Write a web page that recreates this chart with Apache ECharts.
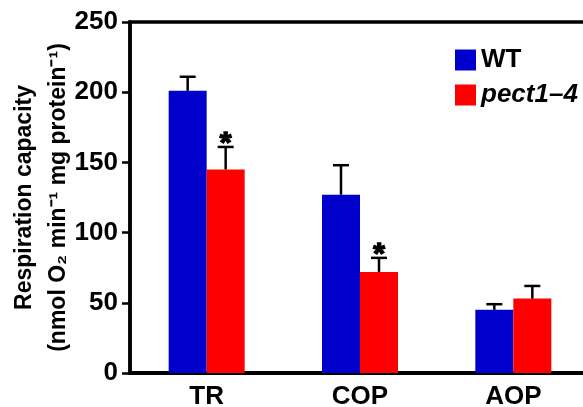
<!DOCTYPE html>
<html lang="en">
<head>
    <meta charset="utf-8">
    <title>Respiration capacity</title>
    <script src="https://cdn.jsdelivr.net/npm/echarts@6/dist/echarts.min.js"></script>
    <style>
        html, body { margin: 0; padding: 0; background: #fff; }
        #chart { width: 583px; height: 407px; }
    </style>
</head>
<body>
<div id="chart"></div>
<script type="text/javascript">
// data
var categories = ['TR', 'COP', 'AOP'];
var wtMean = [201, 127, 45];
var wtErr = [10, 21, 4];
var pectMean = [145, 72, 53];
var pectErr = [16, 10, 9];
var pectSig = [true, true, false];
var yTicks = [0, 50, 100, 150, 200, 250];

var barW = 38;
var font = '"Liberation Sans", Arial, sans-serif';

// upward-only error bars (and significance star) drawn on top of a bar
function errorSeries(name, means, errs, side, sig) {
    var rows = means.map(function (m, i) { return [i, m, m + errs[i], sig ? (sig[i] ? 1 : 0) : 0]; });
    return {
        name: name,
        type: 'custom',
        z: 5,
        data: rows,
        renderItem: function (params, api) {
            var top = api.coord([api.value(0), api.value(1)]);
            var hi = api.coord([api.value(0), api.value(2)]);
            var x = top[0] + side * barW / 2;
            var kids = [
                { type: 'line', shape: { x1: x, y1: top[1], x2: x, y2: hi[1] },
                  style: { stroke: '#000', lineWidth: 2.5 } },
                { type: 'line', shape: { x1: x - 8, y1: hi[1], x2: x + 8, y2: hi[1] },
                  style: { stroke: '#000', lineWidth: 2.5 } }
            ];
            if (api.value(3)) {
                kids.push({ type: 'text', x: x, y: hi[1] + 12,
                    style: { text: '*', fill: '#000', font: 'bold 30px ' + font,
                             align: 'center', verticalAlign: 'bottom',
                             stroke: '#000', lineWidth: 1.5 } });
            }
            return { type: 'group', children: kids };
        }
    };
}

var myChart = echarts.init(document.getElementById('chart'));
myChart.setOption({
    animation: false,
    textStyle: { fontFamily: font },
    grid: {
        left: 130, right: -7, top: 22, bottom: 34,
        outerBoundsMode: 'none',
        show: true, borderColor: '#000', borderWidth: 3.5
    },
    legend: {
        left: 450, top: 42, orient: 'vertical',
        itemWidth: 21, itemHeight: 21, itemGap: 9,
        icon: 'rect',
        textStyle: { color: '#000', fontWeight: 'bold', fontSize: 26 },
        data: [
            { name: 'WT' },
            { name: 'pect1–4', textStyle: { fontStyle: 'italic' } }
        ]
    },
    xAxis: {
        type: 'category',
        data: categories,
        axisLine: { lineStyle: { color: '#000', width: 4 } },
        axisTick: { inside: true, length: 15, lineStyle: { color: '#000', width: 2.5 } },
        axisLabel: { color: '#000', fontWeight: 'bold', fontSize: 26, margin: 11 }
    },
    yAxis: {
        type: 'value',
        min: yTicks[0], max: yTicks[yTicks.length - 1], interval: 50,
        splitLine: { show: false },
        axisLine: { show: true, lineStyle: { color: '#000', width: 3.5 } },
        axisTick: { show: true, length: 8, lineStyle: { color: '#000', width: 2.5 } },
        axisLabel: { color: '#000', fontWeight: 'bold', fontSize: 26, margin: 12 },
        name: 'Respiration capacity\n(nmol O\u2082 min\u207b\u00b9 mg protein\u207b\u00b9)',
        nameLocation: 'middle',
        nameRotate: 90,
        nameGap: 54,
        nameMoveOverlap: false,
        nameTextStyle: { color: '#000', fontSize: 23, fontWeight: 'bold', lineHeight: 34 }
    },
    series: [
        { name: 'WT', type: 'bar', data: wtMean, barWidth: barW, barGap: 0,
          itemStyle: { color: '#0000cc' } },
        { name: 'pect1–4', type: 'bar', data: pectMean, barWidth: barW, barGap: 0,
          itemStyle: { color: '#ff0000' } },
        errorSeries('WT', wtMean, wtErr, -1, null),
        errorSeries('pect1–4', pectMean, pectErr, 1, pectSig)
    ]
});
</script>
</body>
</html>
